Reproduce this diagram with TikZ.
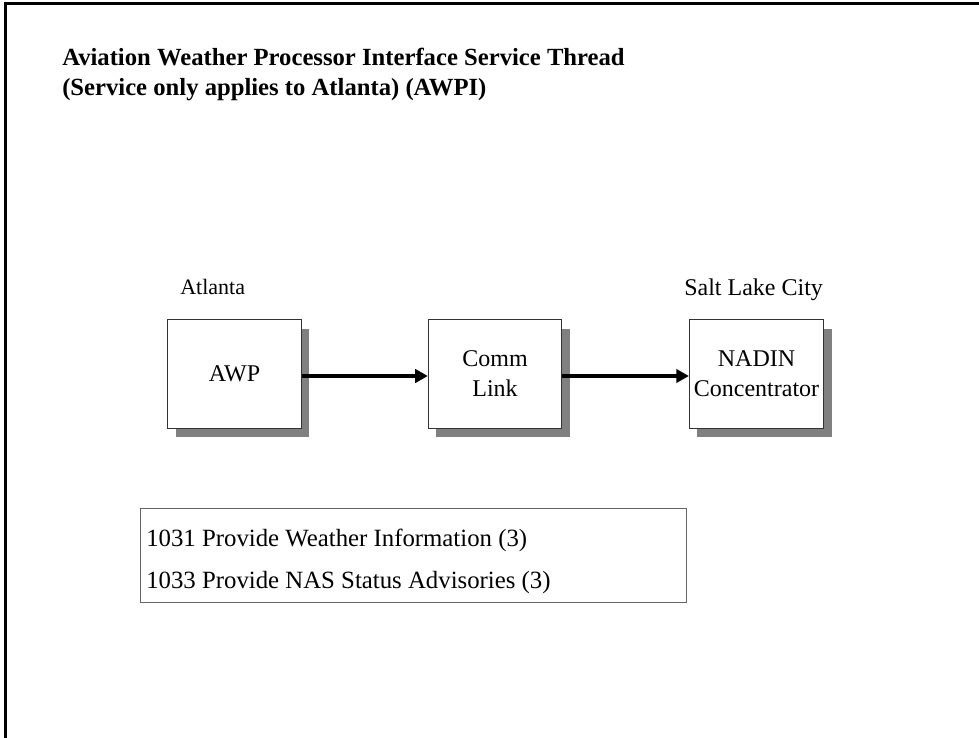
\documentclass[tikz,border=0pt]{standalone}
\usepackage{fontspec}
\setmainfont{Liberation Serif}
\usetikzlibrary{shadows,arrows.meta}
\tikzset{
  unitbox/.style={draw=black!80, line width=0.75pt, fill=white, minimum width=100pt, minimum height=81.5pt, align=center,
    font=\fontsize{18}{22.5}\selectfont, drop shadow={shadow xshift=6pt, shadow yshift=-6.75pt, fill=black!50, opacity=1}},
  flow/.style={line width=3.3pt, -{Triangle[length=9.5pt,width=10pt]}},
  caption/.style={anchor=base west, inner sep=0pt, font=\fontsize{18}{22}\selectfont},
}
\begin{document}
\begin{tikzpicture}[line join=miter, x=0.75pt, y=-0.75pt]
	\useasboundingbox (0,0) rectangle (979,738);
	% page frame
	\draw[line width=2.25pt] (5,738) -- (5,3.5) -- (979,3.5);
	\node[caption, font=\fontsize{18.5}{22}\selectfont\bfseries] (title) at (62,66) {Aviation Weather Processor Interface Service Thread};
	\node[caption, font=\fontsize{18.5}{22}\selectfont\bfseries] (subtitle) at (62,96) {(Service only applies to Atlanta) (AWPI)};
	% units
	\node[unitbox] (awp) at (234.5,374) {AWP};
	\node[unitbox] (comm) at (495,374) {Comm\\Link};
	\node[unitbox] (nadin) at (756.5,374) {NADIN\\Concentrator};
	\node[caption, font=\fontsize{16.5}{20}\selectfont] (atl) at (180,295) {Atlanta};
	\node[caption] (slc) at (684,296) {Salt Lake City};
	\draw[flow] ([yshift=-1.5pt]awp.east) -- ([yshift=-1.5pt]comm.west);
	\draw[flow] ([yshift=-1.5pt]comm.east) -- ([yshift=-1.5pt]nadin.west);
	% services
	\node[draw=black!60, line width=0.75pt, minimum width=409.5pt, minimum height=70.5pt] (services) at (413,555) {};
	\node[caption, font=\fontsize{18.6}{22}\selectfont] (s1031) at (146,546) {1031 Provide Weather Information (3)};
	\node[caption, font=\fontsize{18.6}{22}\selectfont] (s1033) at (146,588) {1033 Provide NAS Status Advisories (3)};
\end{tikzpicture}
\end{document}
